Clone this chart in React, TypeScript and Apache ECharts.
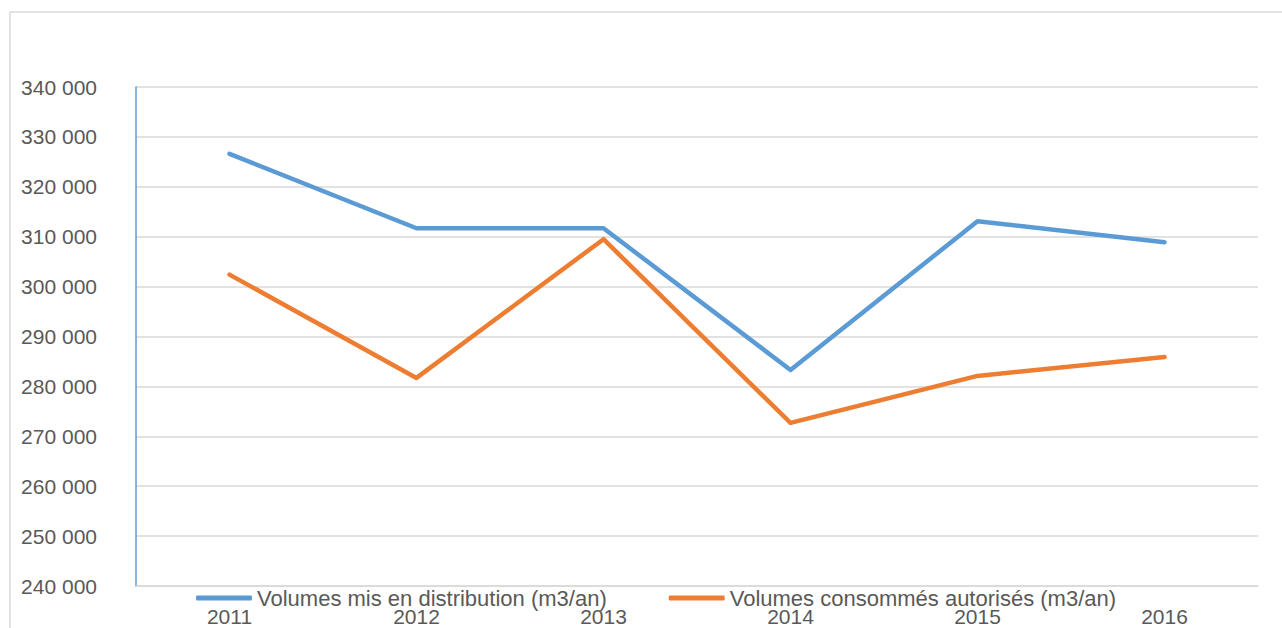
import React, { useEffect, useRef } from "react";
import * as echarts from "echarts";

const years = ["2011", "2012", "2013", "2014", "2015", "2016"];
const distribues = [326600, 311700, 311700, 283300, 313100, 308900];
const consommes = [302400, 281700, 309500, 272700, 282100, 285900];
const seriesNames = [
  "Volumes mis en distribution (m3/an)",
  "Volumes consommés autorisés (m3/an)",
];
const yMin = 240000;
const yMax = 340000;
const yStep = 10000;

const fmt = (v: number) => {
  const s = String(Math.round(v));
  return s.replace(/\B(?=(\d{3})+(?!\d))/g, " ");
};

export default function App() {
  const ref = useRef<HTMLDivElement>(null);
  useEffect(() => {
    if (!ref.current) return;
    const chart = echarts.init(ref.current, null, { renderer: "svg" });
    const font = "Liberation Sans";
    chart.setOption({
      animation: false,
      backgroundColor: "#ffffff",
      textStyle: { fontFamily: font },
      graphic: [
        {
          type: "rect",
          shape: { x: 10, y: 12, width: 1282, height: 640 },
          style: { fill: "none", stroke: "#d9d9d9", lineWidth: 1.5 },
          silent: true,
          z: -1,
        },
      ],
      grid: { left: 136, right: 24, top: 87, bottom: 42 },
      legend: {
        data: seriesNames,
        left: 191,
        top: 582,
        itemWidth: 56,
        itemHeight: 5,
        itemGap: 62,
        icon: "roundRect",
        textStyle: {
          fontFamily: font,
          fontSize: 22,
          color: "#595959",
        },
      },
      xAxis: {
        type: "category",
        data: years,
        boundaryGap: true,
        axisLine: { show: true, lineStyle: { color: "#d9d9d9", width: 1.5 } },
        axisTick: { show: false },
        axisLabel: {
          margin: 20,
          fontSize: 21,
          color: "#595959",
          fontFamily: font,
        },
      },
      yAxis: {
        type: "value",
        min: yMin,
        max: yMax,
        interval: yStep,
        axisLine: { show: true, lineStyle: { color: "#5b9bd5", width: 1.5 } },
        axisTick: { show: false },
        splitLine: { lineStyle: { color: "#d9d9d9", width: 1.5 } },
        axisLabel: {
          margin: 39,
          fontSize: 21,
          color: "#595959",
          fontFamily: font,
          formatter: (v: number) => fmt(v),
        },
      },
      series: [
        {
          name: seriesNames[0],
          type: "line",
          data: distribues,
          showSymbol: false,
          color: "#5b9bd5",
          lineStyle: { width: 4.5, color: "#5b9bd5", cap: "round", join: "round" },
        },
        {
          name: seriesNames[1],
          type: "line",
          data: consommes,
          showSymbol: false,
          color: "#ed7d31",
          lineStyle: { width: 4.5, color: "#ed7d31", cap: "round", join: "round" },
        },
      ],
    });
    return () => chart.dispose();
  }, []);
  return (
    <div
      ref={ref}
      style={{ position: "absolute", left: 0, top: 0, width: 1282, height: 628 }}
    />
  );
}
